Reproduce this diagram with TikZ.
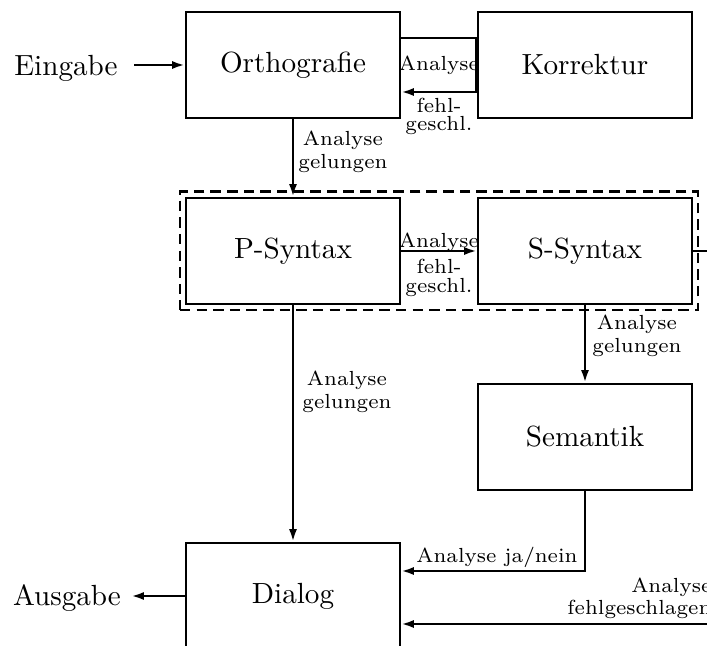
\documentclass[tikz,border=0pt]{standalone}
\usetikzlibrary{arrows.meta,calc,fit}
\newlength{\px}
\setlength{\px}{0.343pt}
\begin{document}
\begin{tikzpicture}[x=\px, y=-\px,
  box/.style={draw, line width=0.95pt, minimum width=73.4pt, minimum height=36.4pt, inner sep=0pt},
  arr/.style={line width=0.8pt, -{Latex[length=4.3pt,width=2.8pt]}},
  lab/.style={font=\scriptsize, align=center, inner sep=0pt},
  tightlab/.style={lab, font=\fontsize{7}{6.3}\selectfont},
  group/.style={draw, line width=0.95pt, dash pattern=on 3.6pt off 2.1pt, inner sep=1.6pt}]
\useasboundingbox (0,0) rectangle (707,646);
\clip (0,0) rectangle (707,646);

% processing stages
\node[box] (O) at (293,65) {Orthografie};
\node[box] (K) at (585,65) {Korrektur};
\node[box] (P) at (293,251) {P-Syntax};
\node[box] (S) at (585,251) {S-Syntax};
\node[box] (Sem) at (585,437) {Semantik};
\node[box] (D) at (293,596) {Dialog};

% syntax group
\node[group, fit=(P)(S)] (G) {};

% input and output
\node[inner xsep=5.5pt] (E) at (66,68) {Eingabe};
\node[inner xsep=3.4pt] (A) at (67,598) {Ausgabe};
\coordinate (R) at (760,251);

\draw[arr] (E.east |- O.west) -- (O.west);
\draw[arr] (D.west) -- (D.west -| A.east);

% correction loop, running along the left edge of the correction box
\draw[arr] ($(O.east)+(0,-27)$) -- ($(K.west)+(-0.8,-27)$) -- ($(K.west)+(-0.8,27)$) -- ($(O.east)+(0,27)$);
\node[lab] (l1) at (439,65) {Analyse};
\node[tightlab] (l2) at (439,116.5) {fehl-\\geschl.};

% main flow
\draw[arr] (O) -- (P);
\node[lab] (l3) at (343,152) {Analyse\\gelungen};
\draw[arr] (P) -- (S);
\node[lab] (l4) at (439,242) {Analyse};
\node[tightlab] (l5) at (439,278) {fehl-\\geschl.};
\draw[arr] (S) -- (Sem);
\node[lab] (l6) at (637,336) {Analyse\\gelungen};
\draw[arr] (P) -- (D);
\node[lab] (l7) at (347,392) {Analyse\\gelungen};
\draw[arr] (Sem.south) |- ($(D.east)+(0,-25)$);
\node[lab] (l8) at (497,557) {Analyse ja/nein};
\draw[arr] (S.east) -- (R) |- ($(D.east)+(0,28)$);
\node[tightlab, align=right, anchor=east] (l9) at (712,598.5) {Analyse\\fehlgeschlagen};
\end{tikzpicture}
\end{document}
